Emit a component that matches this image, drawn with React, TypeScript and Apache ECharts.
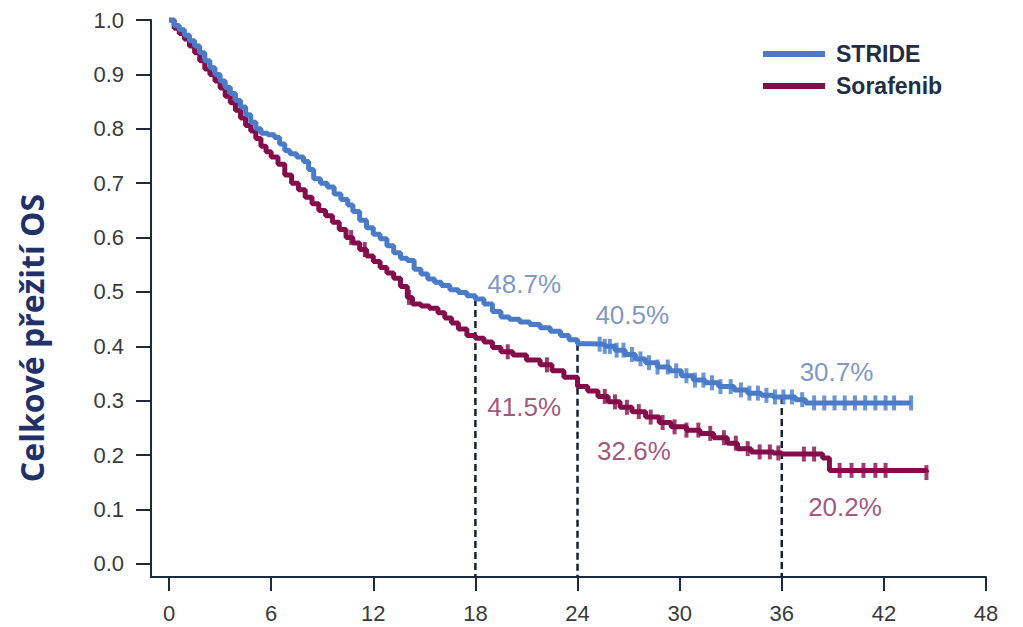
import React, { useEffect, useRef } from "react";
import * as echarts from "echarts";

// ---- Data ----
const X_TICKS = [0, 6, 12, 18, 24, 30, 36, 42, 48];
const Y_TICKS = [0, 0.1, 0.2, 0.3, 0.4, 0.5, 0.6, 0.7, 0.8, 0.9, 1.0];

const STRIDE: [number, number][] = [
  [0, 1.0], [0.3, 0.99], [0.6, 0.982], [0.9, 0.972], [1.2, 0.962], [1.5, 0.952], [1.8, 0.94],
  [2.1, 0.925], [2.4, 0.912], [2.7, 0.9], [3.0, 0.888], [3.3, 0.876], [3.6, 0.865], [3.9, 0.852],
  [4.2, 0.84], [4.5, 0.826], [4.8, 0.812], [5.1, 0.8], [5.4, 0.792], [5.8, 0.789], [6.2, 0.784],
  [6.5, 0.772], [6.8, 0.76], [7.1, 0.754], [7.5, 0.748], [7.9, 0.74], [8.2, 0.725], [8.5, 0.708],
  [8.9, 0.7], [9.3, 0.693], [9.7, 0.68], [10.1, 0.67], [10.5, 0.66], [10.8, 0.648], [11.2, 0.632],
  [11.6, 0.618], [12.0, 0.606], [12.4, 0.598], [12.8, 0.585], [13.2, 0.572], [13.6, 0.562],
  [14.0, 0.558], [14.4, 0.542], [14.8, 0.533], [15.2, 0.524], [15.6, 0.518], [16.0, 0.512],
  [16.5, 0.504], [17.0, 0.499], [17.5, 0.493], [18.0, 0.487], [18.5, 0.478], [19.0, 0.464],
  [19.5, 0.454], [20.0, 0.45], [20.6, 0.445], [21.2, 0.44], [21.8, 0.434], [22.4, 0.428],
  [23.0, 0.42], [23.5, 0.412], [24.0, 0.405], [24.8, 0.404], [25.6, 0.4], [26.2, 0.393],
  [26.8, 0.385], [27.4, 0.377], [28.0, 0.37], [28.7, 0.362], [29.4, 0.355], [30.1, 0.346],
  [30.8, 0.338], [31.5, 0.333], [32.3, 0.326], [33.2, 0.32], [34.0, 0.314], [34.8, 0.31],
  [35.5, 0.307], [36.8, 0.302], [37.4, 0.296], [43.6, 0.296],
];

const SORAFENIB: [number, number][] = [
  [0, 1.0], [0.3, 0.985], [0.6, 0.975], [0.9, 0.965], [1.2, 0.952], [1.5, 0.94], [1.8, 0.925],
  [2.1, 0.91], [2.4, 0.9], [2.7, 0.888], [3.0, 0.875], [3.3, 0.86], [3.6, 0.848], [3.9, 0.834],
  [4.2, 0.82], [4.5, 0.806], [4.8, 0.796], [5.1, 0.782], [5.4, 0.768], [5.7, 0.758], [6.0, 0.748],
  [6.4, 0.735], [6.8, 0.715], [7.2, 0.7], [7.6, 0.688], [8.0, 0.674], [8.4, 0.662], [8.8, 0.65],
  [9.2, 0.64], [9.6, 0.628], [10.0, 0.615], [10.4, 0.6], [10.8, 0.59], [11.2, 0.578],
  [11.6, 0.566], [12.0, 0.556], [12.4, 0.545], [12.8, 0.535], [13.2, 0.525], [13.6, 0.51],
  [14.0, 0.49], [14.3, 0.478], [14.8, 0.474], [15.3, 0.47], [15.8, 0.462], [16.2, 0.452],
  [16.6, 0.443], [17.0, 0.432], [17.5, 0.42], [18.0, 0.415], [18.5, 0.408], [19.0, 0.398],
  [19.5, 0.39], [20.2, 0.384], [21.0, 0.375], [21.8, 0.366], [22.5, 0.355], [23.2, 0.343],
  [24.0, 0.326], [24.6, 0.318], [25.2, 0.308], [25.8, 0.298], [26.5, 0.288], [27.2, 0.28],
  [28.0, 0.27], [28.8, 0.26], [29.5, 0.252], [30.4, 0.246], [31.2, 0.24], [32.0, 0.232],
  [32.8, 0.222], [33.4, 0.212], [34.2, 0.206], [35.5, 0.204], [36.0, 0.202], [38.4, 0.195],
  [38.8, 0.172], [44.5, 0.168],
];

const STRIDE_CENSOR = [
  25.3, 25.6, 25.9, 26.3, 26.7, 27.2, 27.7, 28.2, 28.7, 29.3, 29.8, 30.4, 30.9, 31.4, 31.9, 32.4,
  33.0, 33.6, 34.1, 34.6, 35.1, 35.6, 36.1, 36.6, 37.2, 37.9, 38.5, 39.1, 39.7, 40.3, 40.9, 41.5,
  42.1, 42.6, 43.6,
];
const SORAFENIB_CENSOR = [
  10.7, 11.5, 14.1, 19.9, 22.2, 25.6, 26.2, 26.9, 27.6, 28.3, 29.0, 29.7, 30.4, 31.1, 31.8, 32.6,
  33.3, 34.0, 34.7, 35.3, 35.8, 37.3, 37.9, 39.4, 40.1, 40.8, 41.5, 42.1, 44.5,
];

const LANDMARKS = [18, 24, 36];
const STRIDE_LANDMARK = [0.487, 0.405, 0.307];
const SORAFENIB_LANDMARK = [0.415, 0.326, 0.202];

// ---- Styling ----
const BLUE = "#4a7bc8";
const MAROON = "#850c4a";
const BLUE_TEXT = "#5d7cb4";
const MAROON_TEXT = "#8a2a5d";
const AXIS = "#1c2a3e";
const Y_MIN = -0.024;
const X_MIN = -1.06;

function stepValue(curve: [number, number][], t: number): number {
  let v = curve[0][1];
  for (const [x, y] of curve) {
    if (x <= t) v = y;
    else break;
  }
  return v;
}

// label anchors (left-middle of text) in data coordinates
const STRIDE_LABEL_POS: [number, number][] = [[18.7, 0.514], [25.05, 0.457], [37.05, 0.352]];
const SORAFENIB_LABEL_POS: [number, number][] = [[18.7, 0.288], [25.15, 0.207], [37.55, 0.105]];

export default function App() {
  const ref = useRef<HTMLDivElement>(null);
  useEffect(() => {
    document.body.style.margin = "0";
    if (!ref.current) return;
    const chart = echarts.init(ref.current, null, { renderer: "svg" });

    const fmtPct = (v: number) => (v * 100).toFixed(1) + "%";

    const dashed = LANDMARKS.map((x, i) => ({
      type: "line",
      name: "landmark" + i,
      data: [[x, STRIDE_LANDMARK[i]], [x, Y_MIN]],
      showSymbol: false,
      symbol: "none",
      lineStyle: { color: "#17202e", width: 2.5, type: [7, 4] },
      z: 1,
      silent: true,
    }));

    const labelSeries = (name: string, pos: [number, number][], vals: number[], color: string) => ({
      type: "scatter",
      name,
      symbolSize: 0,
      data: pos.map((p, i) => ({ value: p, name: fmtPct(vals[i]) })),
      label: {
        show: true,
        position: "right",
        distance: 0,
        formatter: (p: any) => p.name,
        color,
        fontSize: 26,
        fontFamily: "Liberation Sans, Arial, sans-serif",
      },
      silent: true,
      z: 5,
    });

    chart.setOption({
      animation: false,
      backgroundColor: "#ffffff",
      grid: { left: 151, right: 37, top: 20, bottom: 50 },
      legend: {
        data: ["STRIDE", "Sorafenib"],
        orient: "vertical",
        left: 763,
        top: 42,
        padding: 0,
        icon: "rect",
        itemWidth: 62,
        itemHeight: 6,
        itemGap: 8,
        selectedMode: false,
        textStyle: {
          fontSize: 23,
          fontWeight: "bold",
          color: "#1f2d45",
          fontFamily: "Liberation Sans, Arial, sans-serif",
          padding: [0, 0, 0, 6],
          lineHeight: 24,
        },
      },
      xAxis: {
        type: "value",
        min: X_MIN,
        max: 48,
        splitLine: { show: false },
        axisLine: { show: true, onZero: false, lineStyle: { color: AXIS, width: 2 } },
        axisTick: { show: true, length: 14, customValues: X_TICKS, lineStyle: { color: AXIS, width: 2 } },
        axisLabel: {
          customValues: X_TICKS,
          margin: 25,
          fontSize: 22,
          color: "#3a3a3a",
          fontFamily: "Liberation Sans, Arial, sans-serif",
          formatter: (v: number) => String(v),
        },
      },
      yAxis: {
        type: "value",
        min: Y_MIN,
        max: 1.0,
        splitLine: { show: false },
        axisLine: { show: true, onZero: false, lineStyle: { color: AXIS, width: 2 } },
        axisTick: { show: true, length: 15, customValues: Y_TICKS, lineStyle: { color: AXIS, width: 2 } },
        axisLabel: {
          customValues: Y_TICKS,
          margin: 27,
          fontSize: 22,
          color: "#3a3a3a",
          fontFamily: "Liberation Sans, Arial, sans-serif",
          formatter: (v: number) => v.toFixed(1),
        },
      },
      graphic: [
        {
          type: "text",
          x: 31,
          y: 338,
          rotation: Math.PI / 2,
          style: {
            text: "Celkové přežití OS",
            fill: "#1f3168",
            font: "bold 32px 'Open Sans', sans-serif",
            align: "center",
            verticalAlign: "middle",
          },
        },
      ],
      series: [
        ...dashed,
        {
          type: "line",
          name: "Sorafenib",
          data: SORAFENIB,
          step: "end",
          showSymbol: false,
          symbol: "none",
          color: MAROON,
          lineStyle: { color: MAROON, width: 5 },
          z: 2,
        },
        {
          type: "line",
          name: "STRIDE",
          data: STRIDE,
          step: "end",
          showSymbol: false,
          symbol: "none",
          color: BLUE,
          lineStyle: { color: BLUE, width: 5 },
          z: 3,
        },
        {
          type: "scatter",
          name: "Sorafenib censor",
          symbol: "rect",
          symbolSize: [4, 15],
          itemStyle: { color: MAROON },
          data: SORAFENIB_CENSOR.map((t) => [t, stepValue(SORAFENIB, t)]),
          z: 3,
          silent: true,
        },
        {
          type: "scatter",
          name: "STRIDE censor",
          symbol: "rect",
          symbolSize: [4, 15],
          itemStyle: { color: BLUE },
          data: STRIDE_CENSOR.map((t) => [t, stepValue(STRIDE, t)]),
          z: 4,
          silent: true,
        },
        labelSeries("STRIDE labels", STRIDE_LABEL_POS, STRIDE_LANDMARK, BLUE_TEXT),
        labelSeries("Sorafenib labels", SORAFENIB_LABEL_POS, SORAFENIB_LANDMARK, MAROON_TEXT),
      ],
    });
    return () => chart.dispose();
  }, []);
  return <div ref={ref} style={{ width: 1023, height: 627 }} />;
}
